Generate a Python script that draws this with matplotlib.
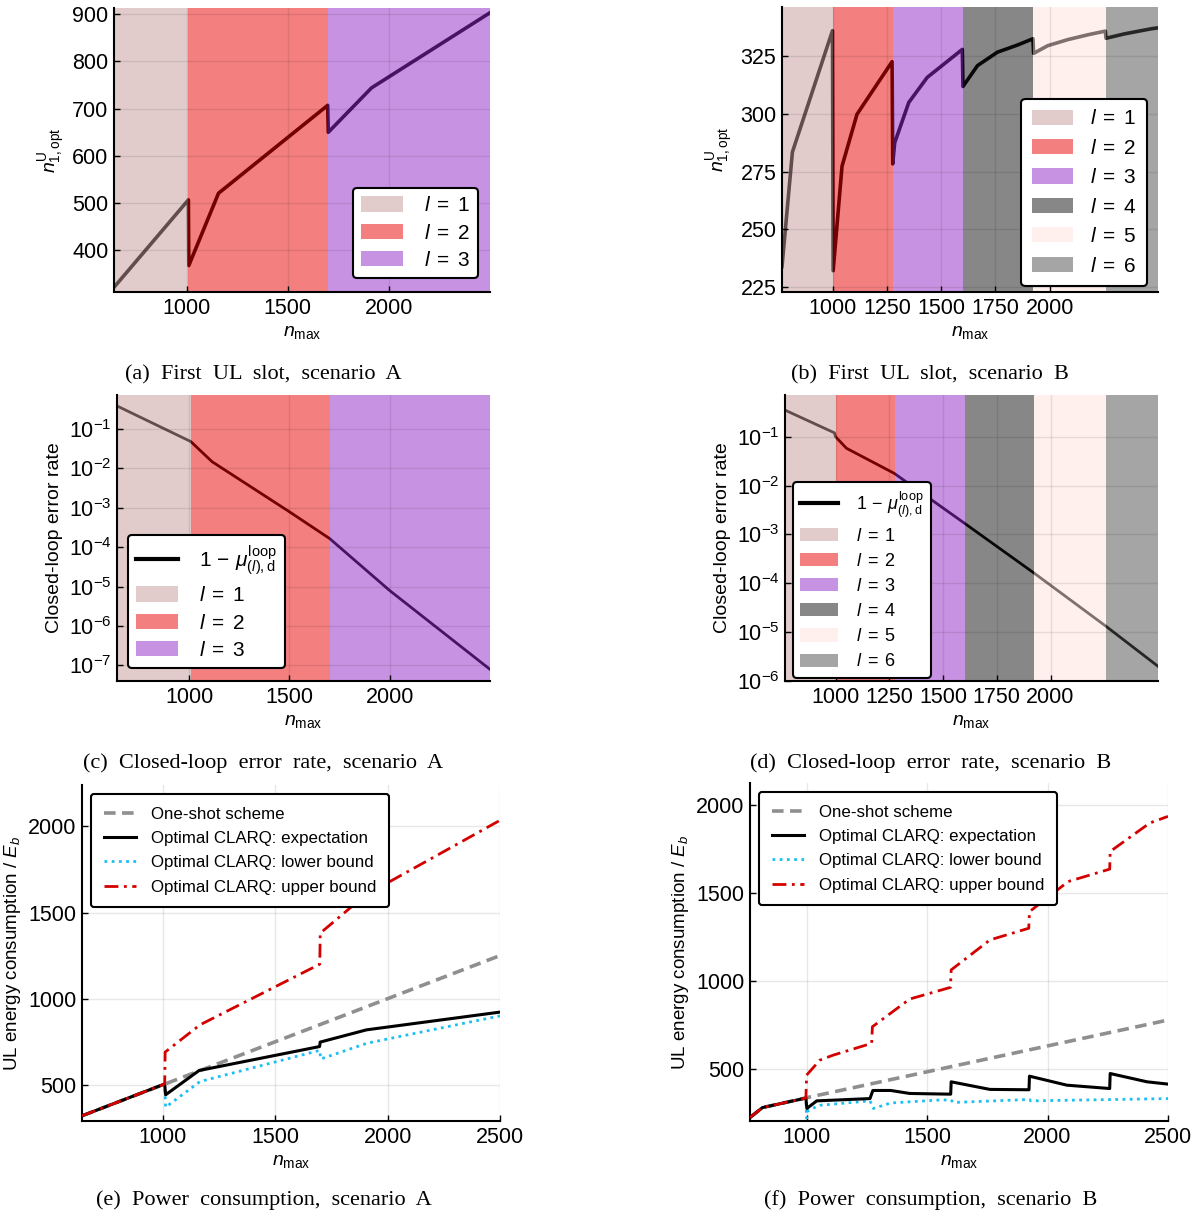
import matplotlib
matplotlib.use("Agg")
import matplotlib.pyplot as plt
import matplotlib.ticker as mticker
from matplotlib.lines import Line2D
from matplotlib.patches import Patch

plt.rcParams["font.family"] = ["Liberation Sans", "DejaVu Sans"]
plt.rcParams["mathtext.fontset"] = "custom"
plt.rcParams["mathtext.rm"] = "Liberation Sans"
plt.rcParams["mathtext.it"] = "Liberation Sans:italic"
plt.rcParams["mathtext.bf"] = "Liberation Sans:bold"

W, H = 1203, 1216

# ---- band layout (number of rounds l) ----
A_BOUNDS = [640, 1008, 1700, 2500]
B_BOUNDS = [765, 1000, 1275, 1600, 1925, 2260, 2500]
BAND_LABELS = [r"$l\;=\;1$", r"$l\;=\;2$", r"$l\;=\;3$", r"$l\;=\;4$", r"$l\;=\;5$", r"$l\;=\;6$"]
BAND_COLORS = ["#c79999", "#e90000", "#9327c7", "#111111", "#ffe1dd", "#4d4d4d"]

# ---- (a) first UL slot, scenario A ----
A_N1_X = [640, 1008, 1010, 1157, 1697, 1700, 1914, 2500]
A_N1_Y = [322, 507, 368, 521, 707, 650, 744, 903]

# ---- (b) first UL slot, scenario B ----
B_N1_X = [765, 813, 998, 1001, 1042, 1111, 1273, 1276, 1285, 1350, 1435, 1597, 1600,
          1667, 1759, 1852, 1923, 1926, 1991, 2083, 2176, 2257, 2260, 2345, 2469, 2500]
B_N1_Y = [234, 283.4, 335.8, 232.2, 277.3, 299.7, 322.4, 278.3, 287.4, 304.8, 315.6, 327.7, 311.7,
          320.7, 326.5, 329.6, 332.3, 326.0, 329.3, 331.9, 334.0, 335.6, 332.5, 334.4, 336.6, 337.0]

# ---- (c) closed-loop error rate, scenario A ----
A_ERR_X = [640, 1008, 1114, 1500, 1700, 2000, 2500]
A_ERR_Y = [0.385, 0.048, 0.0148, 7.9e-4, 1.66e-4, 7.9e-6, 7.9e-8]

# ---- (d) closed-loop error rate, scenario B ----
B_ERR_X = [765, 995, 1000, 1051, 1273, 1597, 1925, 2260, 2500]
B_ERR_Y = [0.35, 0.12, 0.1, 0.058, 0.0178, 1.73e-3, 1.6e-4, 1.3e-5, 2.0e-6]

# ---- (e) power consumption, scenario A ----
A_ONE_X = [640, 2500]
A_ONE_Y = [320, 1250]
A_EXP_X = [640, 1008, 1012, 1161, 1697, 1700, 1906, 2500]
A_EXP_Y = [320, 505, 442, 583, 722, 748, 819, 922]
A_LOW_X = [640, 1008, 1012, 1165, 1698, 1702, 1910, 2500]
A_LOW_Y = [320, 505, 370, 519, 700, 650, 742, 900]
A_UP_X = [640, 1008, 1010, 1165, 1698, 1700, 1900, 2500]
A_UP_Y = [320, 505, 690, 848, 1200, 1380, 1600, 2035]

# ---- (f) power consumption, scenario B ----
B_ONE_X = [765, 817, 1000, 2500]
B_ONE_Y = [228, 284, 340, 780]
B_EXP_X = [765, 817, 997, 1001, 1042, 1263, 1275, 1349, 1428, 1598, 1600, 1761, 1923, 1925,
           2080, 2258, 2260, 2413, 2500]
B_EXP_Y = [228, 284, 338, 279, 322, 335, 381, 381, 364, 360, 430, 387, 385, 462,
           411, 392, 477, 430, 417]
B_LOW_X = [765, 817, 997, 1000, 1007, 1055, 1263, 1277, 1349, 1540, 1598, 1610, 1925, 1930, 2500]
B_LOW_Y = [228, 284, 338, 224, 269, 297, 322, 279, 310, 326, 328, 313, 330, 322, 335]
B_UP_X = [765, 817, 997, 1000, 1055, 1110, 1270, 1273, 1428, 1597, 1600, 1761, 1922, 1925,
          2086, 2258, 2260, 2424, 2500]
B_UP_Y = [228, 284, 338, 468, 553, 581, 648, 742, 899, 965, 1064, 1234, 1300, 1394,
          1565, 1635, 1735, 1896, 1934]

CAPTIONS = ["(a)  First  UL  slot,  scenario  A", "(b)  First  UL  slot,  scenario  B",
            "(c)  Closed-loop  error  rate,  scenario  A", "(d)  Closed-loop  error  rate,  scenario  B",
            "(e)  Power  consumption,  scenario  A", "(f)  Power  consumption,  scenario  B"]

LEGEND_E = ["One-shot scheme", "Optimal CLARQ: expectation",
            "Optimal CLARQ: lower bound", "Optimal CLARQ: upper bound"]
MU_LABEL = r"$1\,-\,\mu^{\mathrm{loop}}_{(l),\mathrm{d}}$"
TICK_FS = 15.5
LABEL_FS = 14


def rect(l, t, r, b):
    return [l / W, 1 - b / H, (r - l) / W, (b - t) / H]


def style(ax, fs=TICK_FS):
    for s in ("top", "right"):
        ax.spines[s].set_visible(False)
    for s in ("left", "bottom"):
        ax.spines[s].set_linewidth(1.5)
    ax.set_axisbelow(False)
    ax.grid(True, color="black", alpha=0.09, lw=1.0)
    ax.tick_params(direction="in", length=4, width=1, labelsize=fs, pad=4)


def bands(ax, bounds):
    for i in range(len(bounds) - 1):
        ax.axvspan(bounds[i], bounds[i + 1], color=BAND_COLORS[i], alpha=0.5, lw=0, zorder=1.5)


def band_handles(n):
    return [Patch(facecolor=BAND_COLORS[i], alpha=0.5, edgecolor="none") for i in range(n)]


def legend(ax, handles, labels, anchor, loc, fs, **kw):
    lg = ax.legend(handles, labels, loc=loc, bbox_to_anchor=(anchor[0] / W, 1 - anchor[1] / H),
                   bbox_transform=ax.figure.transFigure, fontsize=fs, frameon=True, fancybox=True,
                   framealpha=1, edgecolor="black", borderaxespad=0, **kw)
    lg.get_frame().set_linewidth(1.5)
    lg.set_zorder(10)
    return lg


def main():
    fig = plt.figure(figsize=(W / 100, H / 100), dpi=100)

    # (a)
    ax = fig.add_axes(rect(114, 8, 490, 292))
    style(ax)
    ax.plot(A_N1_X, A_N1_Y, color="black", lw=2.6, zorder=1)
    bands(ax, A_BOUNDS)
    ax.set_xlim(640, 2500); ax.set_ylim(312, 913)
    ax.set_xticks([1000, 1500, 2000]); ax.set_yticks([400, 500, 600, 700, 800, 900])
    ax.set_xlabel(r"$n_{\mathrm{max}}$", fontsize=LABEL_FS)
    ax.set_ylabel(r"$n^{\mathrm{U}}_{1,\mathrm{opt}}$", fontsize=LABEL_FS)
    legend(ax, band_handles(3), BAND_LABELS[:3], (478, 188), "upper right", 15,
           handlelength=2.0, handleheight=0.75, handletextpad=1.0, labelspacing=0.4)

    # (b)
    ax = fig.add_axes(rect(782, 7, 1158, 292))
    style(ax)
    ax.plot(B_N1_X, B_N1_Y, color="black", lw=2.6, zorder=1)
    bands(ax, B_BOUNDS)
    ax.set_xlim(765, 2500); ax.set_ylim(223, 346)
    ax.set_xticks([1000, 1250, 1500, 1750, 2000]); ax.set_yticks([225, 250, 275, 300, 325])
    ax.set_xlabel(r"$n_{\mathrm{max}}$", fontsize=LABEL_FS)
    ax.set_ylabel(r"$n^{\mathrm{U}}_{1,\mathrm{opt}}$", fontsize=LABEL_FS)
    legend(ax, band_handles(6), BAND_LABELS, (1147, 99), "upper right", 15,
           handlelength=2.0, handleheight=0.75, handletextpad=0.8, labelspacing=0.5,
           borderpad=0.5)

    # (c)
    ax = fig.add_axes(rect(117, 395, 490, 681))
    style(ax)
    ax.plot(A_ERR_X, A_ERR_Y, color="black", lw=2.0, zorder=1)
    bands(ax, A_BOUNDS)
    ax.set_yscale("log")
    ax.set_xlim(640, 2500); ax.set_ylim(4e-8, 0.73)
    ax.set_xticks([1000, 1500, 2000])
    ax.yaxis.set_major_locator(mticker.FixedLocator([1e-7, 1e-6, 1e-5, 1e-4, 1e-3, 1e-2, 1e-1]))
    ax.yaxis.set_minor_locator(mticker.NullLocator())
    ax.set_xlabel(r"$n_{\mathrm{max}}$", fontsize=LABEL_FS)
    ax.set_ylabel("Closed-loop error rate", fontsize=LABEL_FS)
    legend(ax, [Line2D([], [], color="black", lw=3)] + band_handles(3), [MU_LABEL] + BAND_LABELS[:3],
           (128, 535), "upper left", 15,
           handlelength=2.0, handleheight=0.75, handletextpad=1.0, labelspacing=0.4)

    # (d)
    ax = fig.add_axes(rect(785, 395, 1158, 681))
    style(ax)
    ax.plot(B_ERR_X, B_ERR_Y, color="black", lw=2.0, zorder=1)
    bands(ax, B_BOUNDS)
    ax.set_yscale("log")
    ax.set_xlim(765, 2500); ax.set_ylim(1e-6, 0.714)
    ax.set_xticks([1000, 1250, 1500, 1750, 2000])
    ax.yaxis.set_major_locator(mticker.FixedLocator([1e-6, 1e-5, 1e-4, 1e-3, 1e-2, 1e-1]))
    ax.yaxis.set_minor_locator(mticker.NullLocator())
    ax.set_xlabel(r"$n_{\mathrm{max}}$", fontsize=LABEL_FS)
    ax.set_ylabel("Closed-loop error rate", fontsize=LABEL_FS)
    legend(ax, [Line2D([], [], color="black", lw=3)] + band_handles(6), [MU_LABEL] + BAND_LABELS,
           (793, 482), "upper left", 13,
           handlelength=2.1, handleheight=0.75, handletextpad=1.0, labelspacing=0.45)

    # (e) and (f)
    for r, d, lim, anchor in [
            (rect(82, 785, 500, 1121), (A_ONE_X, A_ONE_Y, A_EXP_X, A_EXP_Y, A_LOW_X, A_LOW_Y, A_UP_X, A_UP_Y),
             (640, 2500, 290, 2240), (91, 794)),
            (rect(750, 783, 1168, 1121), (B_ONE_X, B_ONE_Y, B_EXP_X, B_EXP_Y, B_LOW_X, B_LOW_Y, B_UP_X, B_UP_Y),
             (765, 2500, 208, 2123), (759, 792))]:
        ax = fig.add_axes(r)
        style(ax)
        ax.set_axisbelow(True)
        h1, = ax.plot(d[0], d[1], color="#8f8f8f", lw=2.6, ls=(0, (3.2, 1.8)), zorder=2)
        h3, = ax.plot(d[4], d[5], color="#1cbff2", lw=2.0, ls=(0, (1, 1.6)), zorder=2.5)
        h2, = ax.plot(d[2], d[3], color="black", lw=2.2, zorder=3)
        h4, = ax.plot(d[6], d[7], color="#d40000", lw=2.0, ls=(0, (5, 2, 1, 2)), zorder=4)
        ax.set_xlim(lim[0], lim[1]); ax.set_ylim(lim[2], lim[3])
        ax.set_xticks([1000, 1500, 2000, 2500]); ax.set_yticks([500, 1000, 1500, 2000])
        ax.set_xlabel(r"$n_{\mathrm{max}}$", fontsize=LABEL_FS)
        ax.set_ylabel(r"UL energy consumption / $E_b$", fontsize=13.5)
        legend(ax, [h1, h2, h3, h4], LEGEND_E, anchor, "upper left", 12.2,
               handlelength=1.9, handletextpad=0.9, labelspacing=0.55, borderpad=0.75)

    # captions
    cap_pos = [(263, 375), (930, 375), (263, 763), (931, 763), (264, 1200), (931, 1200)]
    for (x, y), c in zip(cap_pos, CAPTIONS):
        fig.text(x / W, 1 - y / H, c, ha="center", va="center", fontsize=16,
                 family=["Liberation Serif", "DejaVu Serif"])

    fig.savefig("out.png", dpi=100)
    plt.close(fig)


if __name__ == "__main__":
    main()
